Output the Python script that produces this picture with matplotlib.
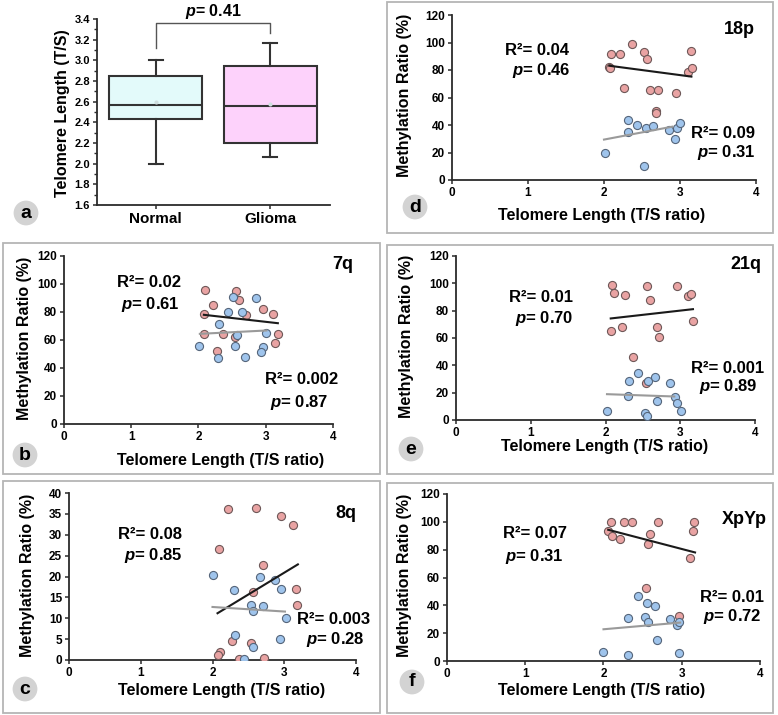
import matplotlib
matplotlib.use("Agg")
import matplotlib.pyplot as plt
from matplotlib.patches import Rectangle

plt.rcParams['font.family'] = ['Liberation Sans', 'DejaVu Sans']
plt.rcParams['font.weight'] = 'bold'
plt.rcParams['mathtext.fontset'] = 'custom'
plt.rcParams['mathtext.it'] = 'Liberation Sans:italic:bold'
plt.rcParams['mathtext.rm'] = 'Liberation Sans:bold'
plt.rcParams['mathtext.bf'] = 'Liberation Sans:bold'

# ---------------- data ----------------
# panel a (box plot)
groups = ['Normal', 'Glioma']
box_whislo = [2.00, 2.065]
box_q1 = [2.43, 2.20]
box_med = [2.563, 2.555]
box_q3 = [2.85, 2.95]
box_whishi = [3.00, 3.17]
box_mean = [2.597, 2.577]
p_box = 'p= 0.41'

# panel d (18p)
d_pink_x = [2.09, 2.21, 2.37, 2.52, 2.56, 2.07, 2.08, 2.26, 2.60, 2.71, 2.95, 2.69, 2.69, 3.15, 3.10, 3.16]
d_pink_y = [91.6, 91.6, 98.8, 92.8, 88.0, 82.4, 81.4, 66.7, 65.8, 65.8, 63.4, 50.1, 48.5, 94.0, 78.8, 81.4]
d_blue_x = [2.01, 2.31, 2.31, 2.44, 2.55, 2.65, 2.86, 2.96, 3.00, 2.93, 2.53]
d_blue_y = [20.0, 43.4, 34.9, 39.8, 38.1, 39.5, 36.1, 37.8, 41.4, 30.1, 10.4]
d_black_x = [2.07, 3.15]; d_black_y = [83.1, 75.2]
d_gray_x = [2.00, 2.90]; d_gray_y = [29.4, 38.8]

# panel b (7q)
b_pink_x = [2.10, 2.22, 2.08, 2.56, 2.60, 2.70, 2.96, 3.11, 2.08, 2.36, 2.54, 3.18, 3.14, 2.27]
b_pink_y = [95.9, 84.7, 78.5, 94.7, 88.8, 77.6, 82.1, 78.5, 64.4, 64.4, 61.8, 64.2, 57.8, 52.3]
b_blue_x = [2.51, 2.86, 2.44, 2.65, 2.30, 2.57, 3.00, 2.01, 2.55, 2.96, 2.93, 2.29, 2.69]
b_blue_y = [90.7, 90.0, 79.7, 80.0, 71.4, 63.7, 64.9, 55.8, 55.8, 54.7, 51.3, 47.0, 48.2]
b_black_x = [2.08, 3.18]; b_black_y = [78.0, 72.0]
b_gray_x = [2.02, 3.01]; b_gray_y = [64.4, 66.8]

# panel e (21q)
e_pink_x = [2.09, 2.11, 2.26, 2.56, 2.60, 2.95, 3.10, 3.15, 3.17, 2.07, 2.22, 2.69, 2.71, 2.37, 2.54]
e_pink_y = [99.0, 93.2, 91.7, 98.0, 87.6, 98.0, 90.5, 92.0, 72.3, 65.0, 68.2, 68.2, 61.0, 45.9, 27.0]
e_blue_x = [2.44, 2.31, 2.57, 2.66, 2.86, 2.30, 2.69, 2.93, 2.95, 3.01, 2.02, 2.53, 2.55]
e_blue_y = [34.2, 28.2, 28.9, 31.3, 27.0, 17.2, 13.6, 16.5, 12.4, 6.8, 6.3, 5.1, 2.7]
e_black_x = [2.07, 3.17]; e_black_y = [74.3, 81.1]
e_gray_x = [2.02, 2.92]; e_gray_y = [18.9, 17.2]

# panel c (8q)
c_pink_x = [2.22, 2.61, 2.96, 3.12, 2.09, 2.70, 3.16, 2.56, 3.18, 2.27, 2.54, 2.10, 2.07, 2.37, 2.72]
c_pink_y = [36.1, 36.5, 34.4, 32.3, 26.5, 22.7, 17.0, 16.3, 13.1, 4.6, 4.0, 1.8, 1.2, 0.2, 0.4]
c_blue_x = [2.01, 2.66, 2.87, 2.30, 2.96, 2.53, 2.70, 2.57, 3.02, 2.31, 2.94, 2.56, 2.44]
c_blue_y = [20.3, 19.8, 19.1, 16.7, 16.9, 13.1, 12.9, 11.7, 10.0, 6.0, 5.0, 3.2, 0.2]
c_black_x = [2.07, 3.19]; c_black_y = [11.2, 22.9]
c_gray_x = [2.00, 3.01]; c_gray_y = [12.7, 11.6]

# panel f (XpYp)
f_pink_x = [2.09, 2.26, 2.37, 2.70, 3.16, 2.06, 2.11, 2.21, 2.60, 2.57, 3.15, 3.11, 2.54, 2.96]
f_pink_y = [99.6, 99.8, 99.8, 99.8, 99.6, 93.1, 89.5, 87.6, 91.4, 84.0, 93.1, 73.9, 52.8, 32.4]
f_blue_x = [2.44, 2.56, 2.66, 2.31, 2.53, 2.57, 2.85, 2.94, 2.97, 2.69, 2.00, 2.31, 2.97]
f_blue_y = [47.0, 41.5, 39.8, 30.7, 31.4, 27.8, 30.0, 25.9, 28.3, 15.1, 6.7, 4.3, 6.0]
f_black_x = [2.06, 3.17]; f_black_y = [94.3, 78.0]
f_gray_x = [2.00, 2.98]; f_gray_y = [22.8, 27.6]

# ---------------- figure ----------------
W, H = 778, 715
fig = plt.figure(figsize=(W / 100, H / 100), dpi=100)
fig.patch.set_facecolor('white')

SPINE = '#2b2b2b'


def add_ax(l, t, r, b):
    return fig.add_axes([l / W, 1 - b / H, (r - l) / W, (b - t) / H])


def frame(l, t, r, b):
    fig.patches.append(Rectangle((l / W, 1 - b / H), (r - l) / W, (b - t) / H,
                                 transform=fig.transFigure, fill=False,
                                 ec='#b5b5b5', lw=1.3, zorder=0))


def letter(x, y, s):
    fig.text(x / W, 1 - y / H, s, fontsize=14, fontweight='bold', ha='center', va='center',
             bbox=dict(boxstyle='circle,pad=0.2', fc='#d3d3d3', ec='none'))


def style_axes(ax):
    for s in ['top', 'right']:
        ax.spines[s].set_visible(False)
    for s in ['left', 'bottom']:
        ax.spines[s].set_color(SPINE)
        ax.spines[s].set_linewidth(1.3)
    ax.tick_params(direction='out', length=3, width=1.1, color=SPINE, labelsize=8.5, pad=2)
    for lab in ax.get_xticklabels() + ax.get_yticklabels():
        lab.set_fontweight('bold')


def place_labels(ax, rect, xl, yl, xlabel, ylabel, size=11.5):
    l, t, r, b = rect
    ax.set_xlabel(xlabel, fontsize=size, fontweight='bold')
    ax.set_ylabel(ylabel, fontsize=size, fontweight='bold')
    ax.xaxis.label.set_va('center')
    ax.yaxis.label.set_va('center')
    ax.xaxis.set_label_coords((xl[0] - l) / (r - l), (b - xl[1]) / (b - t))
    ax.yaxis.set_label_coords((yl[0] - l) / (r - l), (b - yl[1]) / (b - t))


# ---------------- panel a ----------------
rect_a = (97, 19, 330, 205)
ax = add_ax(*rect_a)
stats = [dict(label=g, whislo=lo, q1=a1, med=m, q3=a3, whishi=hi, mean=mn, fliers=[])
         for g, lo, a1, m, a3, hi, mn in zip(groups, box_whislo, box_q1, box_med,
                                             box_q3, box_whishi, box_mean)]
bp = ax.bxp(stats, positions=[1, 2], widths=0.81, patch_artist=True, showmeans=True,
            showfliers=False, capwidths=0.12,
            boxprops=dict(ec='#333333', lw=1.5),
            medianprops=dict(color='#333333', lw=1.5),
            whiskerprops=dict(color='#333333', lw=1.5),
            capprops=dict(color='#333333', lw=1.5),
            meanprops=dict(marker='o', markersize=3, markerfacecolor='#cfdede',
                           markeredgecolor='none'))
for patch, c in zip(bp['boxes'], ['#e3fafa', '#fdd2fb']):
    patch.set_facecolor(c)
ax.set_xlim(0.488, 2.52)
ax.set_ylim(1.6, 3.4)
ax.set_yticks([1.6, 1.8, 2.0, 2.2, 2.4, 2.6, 2.8, 3.0, 3.2, 3.4])
ax.set_yticklabels(['1.6', '1.8', '2.0', '2.2', '2.4', '2.6', '2.8', '3.0', '3.2', '3.4'])
ax.set_yticks([1.7, 1.9, 2.1, 2.3, 2.5, 2.7, 2.9, 3.1, 3.3], minor=True)
style_axes(ax)
ax.tick_params(axis='y', which='minor', length=2, width=1.0, color=SPINE)
ax.tick_params(axis='both', labelsize=8)
ax.tick_params(axis='x', labelsize=11, pad=2)
for lab in ax.get_xticklabels():
    lab.set_fontweight('bold')
ax.plot([1, 1, 2, 2], [3.12, 3.365, 3.365, 3.26], color='#555555', lw=1.0, clip_on=False)
ax.text(1.5, 3.468, r'$p$= 0.41', fontsize=11.5, fontweight='bold', ha='center', va='center')
ax.set_ylabel('Telomere Length (T/S)', fontsize=11.5, fontweight='bold')
ax.yaxis.label.set_va('center')
ax.yaxis.set_label_coords((62 - 97) / (330 - 97), (205 - 113) / (205 - 19))
letter(26, 213, 'a')

# ---------------- scatter panels ----------------
XL = 'Telomere Length (T/S ratio)'
YL = 'Methylation Ratio (%)'


def scatter_panel(rect, fr, px, py, bx, by, kx, ky, gx, gy, ylim, yticks,
                  chrom, chrom_xy, up_txt, up_xy, lo_txt, lo_xy, xl, yl, let, let_xy):
    frame(*fr)
    ax = add_ax(*rect)
    ax.scatter(px, py, s=34, c='#e9a3a3', edgecolors='#6e5858', linewidths=0.8, zorder=3)
    ax.scatter(bx, by, s=34, c='#9fc4ec', edgecolors='#55657a', linewidths=0.8, zorder=3)
    ax.plot(kx, ky, color='#1a1a1a', lw=1.5, zorder=4)
    ax.plot(gx, gy, color='#9a9a9a', lw=1.5, zorder=4)
    ax.set_xlim(0, 4)
    ax.set_ylim(*ylim)
    ax.set_xticks([0, 1, 2, 3, 4])
    ax.set_yticks(yticks)
    style_axes(ax)
    ax.text(chrom_xy[0], chrom_xy[1], chrom, fontsize=13, fontweight='bold',
            ha='right', va='center', clip_on=False)
    ax.text(up_xy[0], up_xy[1], up_txt[0], fontsize=12, fontweight='bold', ha='right', va='center')
    ax.text(up_xy[2], up_xy[3], up_txt[1], fontsize=12, fontweight='bold', ha='right', va='center')
    ax.text(lo_xy[0], lo_xy[1], lo_txt[0], fontsize=12, fontweight='bold', ha='right', va='center',
            clip_on=False)
    ax.text(lo_xy[2], lo_xy[3], lo_txt[1], fontsize=12, fontweight='bold', ha='right', va='center',
            clip_on=False)
    place_labels(ax, rect, xl, yl, XL, YL)
    letter(let_xy[0], let_xy[1], let)
    return ax


# d: 18p
scatter_panel((452, 15, 756, 180), (387, 2, 773, 233),
              d_pink_x, d_pink_y, d_blue_x, d_blue_y, d_black_x, d_black_y, d_gray_x, d_gray_y,
              (0, 120), [0, 20, 40, 60, 80, 100, 120],
              '18p', (3.99, 109.6),
              ('R²= 0.04', r'$p$= 0.46'), (1.54, 94, 1.56, 79.5),
              ('R²= 0.09', r'$p$= 0.31'), (3.99, 33.7, 3.99, 19.8),
              (601.7, 215.5), (405, 95), 'd', (415, 207))

# b: 7q
scatter_panel((64, 256, 333, 424), (3, 243, 380, 474),
              b_pink_x, b_pink_y, b_blue_x, b_blue_y, b_black_x, b_black_y, b_gray_x, b_gray_y,
              (0, 120), [0, 20, 40, 60, 80, 100, 120],
              '7q', (4.3, 113.6),
              ('R²= 0.02', r'$p$= 0.61'), (1.745, 101, 1.72, 85),
              ('R²= 0.002', r'$p$= 0.87'), (4.07, 31.7, 3.93, 15),
              (221, 461), (25, 338), 'b', (25, 455))

# e: 21q
scatter_panel((456, 256, 755, 420), (387, 245, 773, 474),
              e_pink_x, e_pink_y, e_blue_x, e_blue_y, e_black_x, e_black_y, e_gray_x, e_gray_y,
              (0, 120), [0, 20, 40, 60, 80, 100, 120],
              '21q', (4.09, 113.8),
              ('R²= 0.01', r'$p$= 0.70'), (1.57, 89.6, 1.57, 74),
              ('R²= 0.001', r'$p$= 0.89'), (4.12, 38, 4.04, 24.3),
              (605, 446), (407, 336), 'e', (411, 449))

# c: 8q
scatter_panel((69, 493, 356, 660), (3, 481, 380, 713),
              c_pink_x, c_pink_y, c_blue_x, c_blue_y, c_black_x, c_black_y, c_gray_x, c_gray_y,
              (0, 40), [0, 5, 10, 15, 20, 25, 30, 35, 40],
              '8q', (4.01, 35),
              ('R²= 0.08', r'$p$= 0.85'), (1.58, 30.1, 1.59, 25.1),
              ('R²= 0.003', r'$p$= 0.28'), (4.2, 9.7, 4.12, 5.0),
              (222, 690), (28, 575), 'c', (25, 689))

# f: XpYp
scatter_panel((447, 494, 760, 661), (387, 483, 773, 713),
              f_pink_x, f_pink_y, f_blue_x, f_blue_y, f_black_x, f_black_y, f_gray_x, f_gray_y,
              (0, 120), [0, 20, 40, 60, 80, 100, 120],
              'XpYp', (4.09, 101.5),
              ('R²= 0.07', r'$p$= 0.31'), (1.53, 91.4, 1.49, 75.1),
              ('R²= 0.01', r'$p$= 0.72'), (4.05, 45.6, 4.02, 31.9),
              (602, 690), (405, 575), 'f', (412, 682))

fig.savefig('out.png', dpi=100, facecolor='white')
